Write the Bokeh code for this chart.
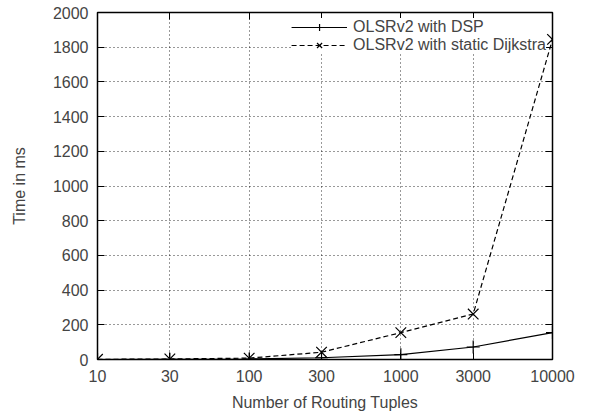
from bokeh.plotting import figure
from bokeh.models import (FixedTicker, PrintfTickFormatter, LinearAxis, LogAxis,
                          Legend, LegendItem, ColumnDataSource, CustomJSTickFormatter)
from bokeh.embed import file_html
from bokeh.resources import INLINE

# Data
tuples = [10, 30, 100, 300, 1000, 3000, 10000]
dsp_ms = [0, 1, 3, 10, 28, 72, 155]
dijkstra_ms = [1, 3, 8, 42, 155, 262, 1845]
x_ticks = [10, 30, 100, 300, 1000, 3000, 10000]
y_ticks = [0, 200, 400, 600, 800, 1000, 1200, 1400, 1600, 1800, 2000]

FONT = "Liberation Sans"
FS = "16px"

p = figure(width=596, height=414, x_axis_type="log", x_range=(10, 10000),
           y_range=(0, 2000), output_backend="svg", toolbar_location=None,
           min_border_left=97, min_border_right=44, min_border_top=12,
           min_border_bottom=55)
p.frame_width = 455
p.frame_height = 347

p.outline_line_color = "black"
p.outline_line_width = 1.5

src = ColumnDataSource(dict(x=tuples, dsp=dsp_ms, dij=dijkstra_ms))

l1 = p.line("x", "dsp", source=src, line_color="black", line_width=1.2)
m1 = p.scatter("x", "dsp", source=src, marker="cross", size=13, line_color="black", line_width=1.2)
l2 = p.line("x", "dij", source=src, line_color="black", line_width=1.2, line_dash="5 3")
m2 = p.scatter("x", "dij", source=src, marker="x", size=15, line_color="black", line_width=1.2)

for g in (p.xgrid[0], p.ygrid[0]):
    g.grid_line_color = "black"
    g.grid_line_dash = "1 3"
    g.grid_line_width = 1
    g.grid_line_alpha = 0.8

p.xaxis.ticker = FixedTicker(ticks=x_ticks)
p.xaxis.formatter = PrintfTickFormatter(format="%d")
p.yaxis.ticker = FixedTicker(ticks=y_ticks)

for ax in (p.xaxis[0], p.yaxis[0]):
    ax.major_tick_in = 7
    ax.major_tick_out = 0
    ax.minor_tick_in = 0
    ax.minor_tick_out = 0
    ax.axis_line_color = None
    ax.major_label_text_font = FONT
    ax.major_label_text_font_size = FS
    ax.axis_label_text_font = FONT
    ax.axis_label_text_font_size = FS
    ax.axis_label_text_font_style = "normal"

p.xaxis.axis_label = "Number of Routing Tuples"
p.yaxis.axis_label = "Time in ms"
p.xaxis.major_label_standoff = 10
p.yaxis.major_label_standoff = 9
p.xaxis.axis_label_standoff = 9
p.yaxis.axis_label_standoff = 22

# mirrored ticks on top and right
blank = CustomJSTickFormatter(code="return '';")
right = LinearAxis(ticker=FixedTicker(ticks=y_ticks), formatter=blank, major_tick_in=7,
                   major_tick_out=0, minor_tick_in=0, minor_tick_out=0,
                   axis_line_color=None, major_label_standoff=0)
top = LogAxis(ticker=FixedTicker(ticks=x_ticks), formatter=blank, major_tick_in=7,
              major_tick_out=0, minor_tick_in=0, minor_tick_out=0,
              axis_line_color=None, major_label_standoff=0)
p.add_layout(right, "right")
p.add_layout(top, "above")

legend = Legend(items=[
    LegendItem(label="OLSRv2 with DSP", renderers=[l1, m1]),
    LegendItem(label="OLSRv2 with static Dijkstra", renderers=[l2, m2]),
], location="top_right")
legend.border_line_color = None
legend.background_fill_color = "white"
legend.background_fill_alpha = 1
legend.label_text_font = FONT
legend.label_text_font_size = FS
legend.glyph_width = 56
legend.glyph_height = 18
legend.label_height = 18
legend.spacing = 0
legend.padding = 2
legend.margin = 6
legend.label_standoff = 6
p.add_layout(legend)

open("out.html", "w").write(file_html(p, INLINE))
